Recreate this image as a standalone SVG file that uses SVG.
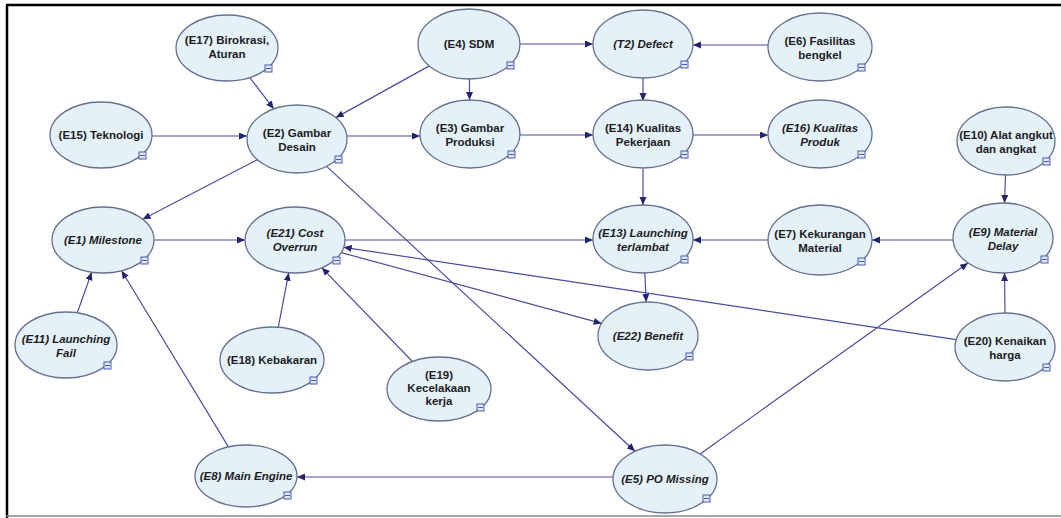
<svg xmlns="http://www.w3.org/2000/svg" width="1061" height="518" viewBox="0 0 1061 518">
<style>
.n ellipse{fill:#e4f1f8;stroke:#66708f;stroke-width:1.3}
.n text{font-family:"Liberation Sans",Arial,sans-serif;font-size:11.5px;font-weight:bold;fill:#1c1c24;text-anchor:middle}
.n text.i{font-style:italic}
.n rect{fill:#dfe8f6;stroke:#4b5bb0;stroke-width:1}
.n path.ic{stroke:#4b5bb0;stroke-width:1;fill:none}
#edges line{stroke:#4a4d9c;stroke-width:1.2;marker-end:url(#ah)}
</style>
<defs>
<marker id="ah" markerUnits="userSpaceOnUse" markerWidth="9" markerHeight="8" refX="8" refY="3.5" orient="auto">
<path d="M0,0 L8,3.5 L0,7 z" fill="#24246e"/>
</marker>
</defs>
<rect x="0" y="0" width="1061" height="518" fill="#ffffff"/>
<line x1="6" y1="5" x2="1061" y2="5" stroke="#000" stroke-width="2.5"/>
<line x1="7" y1="5" x2="7" y2="518" stroke="#000" stroke-width="2.5"/>
<line x1="6" y1="516" x2="1061" y2="516" stroke="#888" stroke-width="1.5"/>

<g id="edges">
<line x1="249.7" y1="77.5" x2="273.8" y2="108.9"/>
<line x1="152" y1="136" x2="247" y2="136"/>
<line x1="429.3" y1="65.9" x2="335.8" y2="117.6"/>
<line x1="469.5" y1="79" x2="469.5" y2="100"/>
<line x1="520" y1="44" x2="593" y2="44"/>
<line x1="768" y1="45" x2="693" y2="45"/>
<line x1="643" y1="78" x2="643" y2="101"/>
<line x1="347" y1="136" x2="420" y2="136"/>
<line x1="520" y1="135" x2="593" y2="135"/>
<line x1="693" y1="135" x2="768" y2="135"/>
<line x1="643" y1="169" x2="643" y2="205"/>
<line x1="257.3" y1="159.7" x2="142.7" y2="219.3"/>
<line x1="326.6" y1="166.4" x2="635" y2="451.2"/>
<line x1="154" y1="240" x2="245" y2="240"/>
<line x1="345" y1="240" x2="593" y2="240"/>
<line x1="768" y1="240" x2="693" y2="240"/>
<line x1="953" y1="240" x2="872" y2="240"/>
<line x1="1005.5" y1="175" x2="1004.5" y2="203"/>
<line x1="1005" y1="313" x2="1004.5" y2="273"/>
<line x1="956.2" y1="339.6" x2="343.7" y2="247.3"/>
<line x1="341.2" y1="252.6" x2="601.6" y2="323.4"/>
<line x1="644.8" y1="273" x2="646.2" y2="302"/>
<line x1="700.1" y1="453.9" x2="968" y2="263"/>
<line x1="77.3" y1="312.8" x2="91.7" y2="272.2"/>
<line x1="228.4" y1="446.9" x2="121.6" y2="270.7"/>
<line x1="278.3" y1="327.2" x2="288.7" y2="272.8"/>
<line x1="412.4" y1="361.5" x2="321.9" y2="267.8"/>
<line x1="613" y1="477" x2="297" y2="477"/>
</g>

<g id="E17" class="n"><ellipse cx="227" cy="48" rx="51" ry="33"/><text x="227" y="44">(E17) Birokrasi,</text><text x="227" y="58">Aturan</text><rect x="265" y="65" width="7" height="7"/><path class="ic" d="M266,68.5 H271"/></g>
<g id="E15" class="n"><ellipse cx="101" cy="135" rx="51" ry="33"/><text x="101" y="139">(E15) Teknologi</text><rect x="139" y="152" width="7" height="7"/><path class="ic" d="M140,155.5 H145"/></g>
<g id="E2" class="n"><ellipse cx="297" cy="139" rx="50" ry="34"/><text x="297" y="137">(E2) Gambar</text><text x="297" y="151">Desain</text><rect x="335" y="156" width="7" height="7"/><path class="ic" d="M336,159.5 H341"/></g>
<g id="E4" class="n"><ellipse cx="469" cy="44" rx="51" ry="35"/><text x="469" y="48">(E4) SDM</text><rect x="507" y="62" width="7" height="7"/><path class="ic" d="M508,65.5 H513"/></g>
<g id="T2" class="n"><ellipse cx="643" cy="44" rx="50" ry="34"/><text class="i" x="643" y="48">(T2) Defect</text><rect x="681" y="61" width="7" height="7"/><path class="ic" d="M682,64.5 H687"/></g>
<g id="E3" class="n"><ellipse cx="470" cy="134" rx="50" ry="34"/><text x="470" y="132">(E3) Gambar</text><text x="470" y="146">Produksi</text><rect x="508" y="151" width="7" height="7"/><path class="ic" d="M509,154.5 H514"/></g>
<g id="E14" class="n"><ellipse cx="643" cy="134" rx="50" ry="34"/><text x="643" y="132">(E14) Kualitas</text><text x="643" y="146">Pekerjaan</text><rect x="681" y="151" width="7" height="7"/><path class="ic" d="M682,154.5 H687"/></g>
<g id="E6" class="n"><ellipse cx="820" cy="47" rx="52" ry="34"/><text x="820" y="45">(E6) Fasilitas</text><text x="820" y="59">bengkel</text><rect x="858" y="64" width="7" height="7"/><path class="ic" d="M859,67.5 H864"/></g>
<g id="E16" class="n"><ellipse cx="820" cy="134" rx="52" ry="34"/><text class="i" x="820" y="132">(E16) Kualitas</text><text class="i" x="820" y="146">Produk</text><rect x="858" y="151" width="7" height="7"/><path class="ic" d="M859,154.5 H864"/></g>
<g id="E10" class="n"><ellipse cx="1006" cy="141" rx="49" ry="34"/><text x="1006" y="139">(E10) Alat angkut</text><text x="1006" y="153">dan angkat</text><rect x="1043" y="158" width="7" height="7"/><path class="ic" d="M1044,161.5 H1049"/></g>
<g id="E1" class="n"><ellipse cx="103" cy="240" rx="51" ry="33"/><text class="i" x="103" y="244">(E1) Milestone</text><rect x="141" y="257" width="7" height="7"/><path class="ic" d="M142,260.5 H147"/></g>
<g id="E21" class="n"><ellipse cx="295" cy="240" rx="50" ry="33"/><text class="i" x="295" y="237">(E21) Cost</text><text class="i" x="295" y="251">Overrun</text><rect x="333" y="257" width="7" height="7"/><path class="ic" d="M334,260.5 H339"/></g>
<g id="E13" class="n"><ellipse cx="643" cy="239" rx="50" ry="34"/><text class="i" x="643" y="237">(E13) Launching</text><text class="i" x="643" y="251">terlambat</text><rect x="681" y="256" width="7" height="7"/><path class="ic" d="M682,259.5 H687"/></g>
<g id="E7" class="n"><ellipse cx="820" cy="240" rx="52" ry="35"/><text x="820" y="238">(E7) Kekurangan</text><text x="820" y="252">Material</text><rect x="858" y="258" width="7" height="7"/><path class="ic" d="M859,261.5 H864"/></g>
<g id="E9" class="n"><ellipse cx="1003" cy="238" rx="50" ry="35"/><text class="i" x="1003" y="236">(E9) Material</text><text class="i" x="1003" y="250">Delay</text><rect x="1041" y="256" width="7" height="7"/><path class="ic" d="M1042,259.5 H1047"/></g>
<g id="E11" class="n"><ellipse cx="66" cy="345" rx="51" ry="33"/><text class="i" x="66" y="343">(E11) Launching</text><text class="i" x="66" y="357">Fail</text><rect x="104" y="362" width="7" height="7"/><path class="ic" d="M105,365.5 H110"/></g>
<g id="E18" class="n"><ellipse cx="272" cy="360" rx="52" ry="33"/><text x="272" y="364">(E18) Kebakaran</text><rect x="310" y="377" width="7" height="7"/><path class="ic" d="M311,380.5 H316"/></g>
<g id="E19" class="n"><ellipse cx="439" cy="389" rx="52" ry="32"/><text x="439" y="379">(E19)</text><text x="439" y="392">Kecelakaan</text><text x="439" y="405">kerja</text><rect x="477" y="404" width="7" height="7"/><path class="ic" d="M478,407.5 H483"/></g>
<g id="E22" class="n"><ellipse cx="648" cy="336" rx="50" ry="34"/><text class="i" x="648" y="340">(E22) Benefit</text><rect x="686" y="353" width="7" height="7"/><path class="ic" d="M687,356.5 H692"/></g>
<g id="E20" class="n"><ellipse cx="1005" cy="347" rx="50" ry="34"/><text x="1005" y="345">(E20) Kenaikan</text><text x="1005" y="359">harga</text><rect x="1043" y="364" width="7" height="7"/><path class="ic" d="M1044,367.5 H1049"/></g>
<g id="E8" class="n"><ellipse cx="246" cy="476" rx="51" ry="31"/><text class="i" x="246" y="480">(E8) Main Engine</text><rect x="284" y="492" width="7" height="7"/><path class="ic" d="M285,495.5 H290"/></g>
<g id="E5" class="n"><ellipse cx="665" cy="479" rx="52" ry="34"/><text class="i" x="665" y="483">(E5) PO Missing</text><rect x="703" y="495" width="7" height="7"/><path class="ic" d="M704,498.5 H709"/></g>
</svg>
